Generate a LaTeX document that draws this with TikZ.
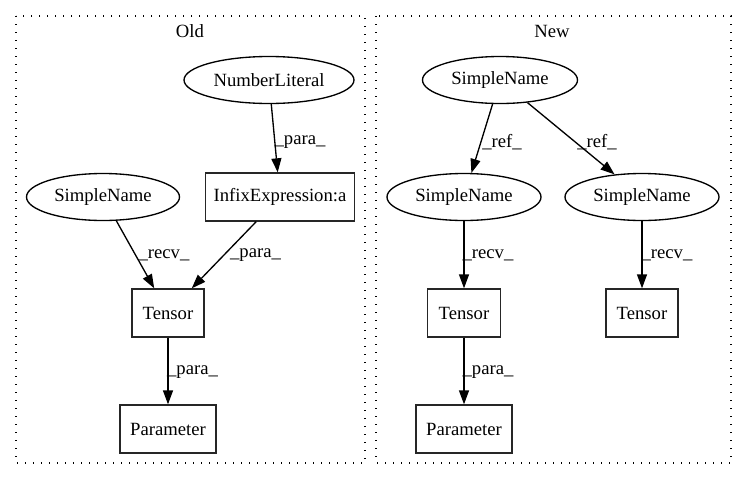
\documentclass[tikz,border=0pt]{standalone}
\usepackage{fontspec}
\setmainfont{Liberation Serif}
\usetikzlibrary{shapes.geometric,arrows.meta}
\begin{document}
\begin{tikzpicture}[x=1pt,y=-1pt,
  every node/.style={font=\fontsize{18.67}{22}\selectfont},
  box/.style={draw, line width=1.33pt, draw=black!85, rectangle, inner sep=0pt, minimum height=48pt},
  ell/.style={draw, line width=1.33pt, ellipse, inner sep=0pt, minimum height=47pt},
  edge/.style={draw, line width=1.33pt, -{Triangle[length=14pt,width=10pt]}},
  lbl/.style={inner sep=0pt},
  cluster/.style={draw, line width=1.33pt, dash pattern=on 1.4pt off 6.6pt}]
\useasboundingbox (0,0) rectangle (747,480);
% clusters
\draw[cluster] (16,16) rectangle (365,463);
\draw[cluster] (376,16) rectangle (731,463);
\node[lbl] (toldt) at (190,31) {Old};
\node[lbl] (tnewt) at (552,31) {New};
% Old
\node[ell, minimum width=170pt] (nl) at (269,80) {NumberLiteral};
\node[box, minimum width=149pt] (inf) at (280,197) {InfixExpression:a};
\node[ell, minimum width=153pt] (sno) at (103,197) {SimpleName};
\node[box, minimum width=72pt] (to) at (168,313) {Tensor};
\node[box, minimum width=96pt] (po) at (168,429) {Parameter};
\draw[edge] (nl) -- (inf);
\draw[edge] (sno) -- (to);
\draw[edge] (inf) -- (to);
\draw[edge] (to) -- (po);
\node[lbl] (l1) at (300,142) {\_para\_};
\node[lbl] (l2) at (164,255) {\_recv\_};
\node[lbl] (l3) at (255.5,255) {\_para\_};
\node[lbl] (l4) at (192.5,372) {\_para\_};
% New
\node[ell, minimum width=155pt] (snt) at (500,80) {SimpleName};
\node[ell, minimum width=154pt] (snl) at (464,197) {SimpleName};
\node[ell, minimum width=154pt] (snr) at (642,197) {SimpleName};
\node[box, minimum width=73pt] (tl) at (464,313) {Tensor};
\node[box, minimum width=72pt] (tr) at (642,313) {Tensor};
\node[box, minimum width=96pt] (pn) at (464,429) {Parameter};
\draw[edge] (snt) -- (snl);
\draw[edge] (snt) -- (snr);
\draw[edge] (snl) -- (tl);
\draw[edge] (snr) -- (tr);
\draw[edge] (tl) -- (pn);
\node[lbl] (l5) at (502,142) {\_ref\_};
\node[lbl] (l6) at (597,142) {\_ref\_};
\node[lbl] (l7) at (488,255) {\_recv\_};
\node[lbl] (l8) at (667,255) {\_recv\_};
\node[lbl] (l9) at (488,372) {\_para\_};
\end{tikzpicture}
\end{document}
